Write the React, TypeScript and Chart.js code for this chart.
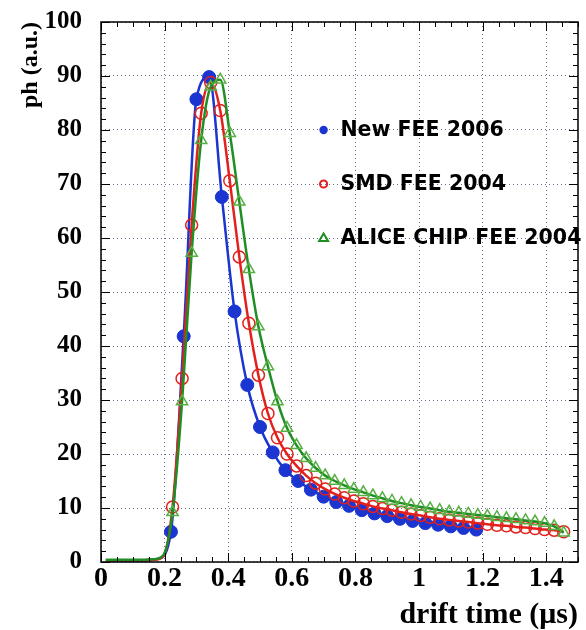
import React, { useEffect, useRef } from 'react';
import { Chart, registerables } from 'chart.js';

Chart.register(...registerables);

const SERIF = '"Liberation Serif", "Times New Roman", serif';
const SANS = '"DejaVu Sans", "Liberation Sans", sans-serif';

// ---------- data ----------
const xTickValues = [0, 0.2, 0.4, 0.6, 0.8, 1, 1.2, 1.4];
const yTickValues = [0, 10, 20, 30, 40, 50, 60, 70, 80, 90, 100];
const seriesLabels = ['New FEE 2006', 'SMD FEE 2004', 'ALICE CHIP FEE 2004'];

// drift time (µs) of the New FEE 2006 samples
const newFeeTimes = [
  0.02, 0.06, 0.10, 0.14, 0.18, 0.22, 0.26, 0.30, 0.34, 0.38,
  0.42, 0.46, 0.50, 0.54, 0.58, 0.62, 0.66, 0.70, 0.74, 0.78,
  0.82, 0.86, 0.90, 0.94, 0.98, 1.02, 1.06, 1.10, 1.14, 1.18,
];
const newFee2006 = [
  0.3, 0.3, 0.3, 0.3, 0.6, 5.6, 41.8, 85.7, 89.8, 67.6,
  46.4, 32.8, 25.0, 20.3, 17.0, 15.0, 13.4, 12.1, 11.1, 10.4,
  9.6, 9.0, 8.5, 8.0, 7.6, 7.2, 6.9, 6.6, 6.3, 6.0,
];

// drift time (µs) of the 2004 samples
const oldFeeTimes = [
  0.015, 0.045, 0.075, 0.105, 0.135, 0.165, 0.195, 0.225, 0.255, 0.285,
  0.315, 0.345, 0.375, 0.405, 0.435, 0.465, 0.495, 0.525, 0.555, 0.585,
  0.615, 0.645, 0.675, 0.705, 0.735, 0.765, 0.795, 0.825, 0.855, 0.885,
  0.915, 0.945, 0.975, 1.005, 1.035, 1.065, 1.095, 1.125, 1.155, 1.185,
  1.215, 1.245, 1.275, 1.305, 1.335, 1.365, 1.395, 1.425, 1.455,
];
const smdFee2004 = [
  0.3, 0.3, 0.3, 0.3, 0.3, 0.4, 1.0, 10.2, 34.0, 62.4,
  83.1, 88.8, 83.6, 70.6, 56.5, 44.2, 34.6, 27.5, 23.0, 20.0,
  17.8, 16.0, 14.6, 13.5, 12.6, 11.9, 11.3, 10.8, 10.3, 9.9,
  9.6, 9.2, 8.9, 8.6, 8.3, 8.0, 7.8, 7.6, 7.4, 7.2,
  7.0, 6.8, 6.7, 6.5, 6.4, 6.2, 6.0, 5.9, 5.6,
];
const aliceChipFee2004 = [
  0.4, 0.4, 0.4, 0.4, 0.4, 0.5, 1.2, 9.2, 29.7, 57.2,
  78.1, 88.0, 89.3, 79.4, 66.7, 54.2, 43.6, 36.2, 29.7, 24.8,
  21.6, 19.2, 17.4, 16.0, 15.0, 14.2, 13.5, 12.9, 12.3, 11.8,
  11.3, 10.9, 10.5, 10.2, 9.9, 9.6, 9.3, 9.1, 8.9, 8.7,
  8.5, 8.3, 8.1, 7.9, 7.7, 7.5, 7.2, 6.6, 5.4,
];

// ---------- styles ----------
const BLUE = '#1a35d0';
const RED = '#e3201c';
const GREEN = '#1f8f24';
const GREEN_MARK = '#58b043';

const hideFlat = (r: number) => (ctx: any) => (ctx.raw && ctx.raw.y < 2 ? 0 : r);

const framePlugin = {
  id: 'rootFrame',
  afterDatasetsDraw(chart: any) {
    const { ctx, chartArea } = chart;
    const { left, right, top, bottom } = chartArea;
    const xs = chart.scales.x;
    const ys = chart.scales.y;
    ctx.save();
    ctx.strokeStyle = '#000';
    ctx.lineWidth = 1.5;
    ctx.strokeRect(left, top, right - left, bottom - top);
    ctx.lineWidth = 1;
    ctx.beginPath();
    for (let i = 0; i <= 30; i++) {
      const px = Math.round(xs.getPixelForValue(i * 0.05)) + 0.5;
      const len = i % 4 === 0 ? 9 : 5;
      ctx.moveTo(px, bottom);
      ctx.lineTo(px, bottom - len);
      ctx.moveTo(px, top);
      ctx.lineTo(px, top + len);
    }
    for (let i = 0; i <= 50; i++) {
      const py = Math.round(ys.getPixelForValue(i * 2)) + 0.5;
      const len = i % 5 === 0 ? 9 : 5;
      ctx.moveTo(left, py);
      ctx.lineTo(left + len, py);
      ctx.moveTo(right, py);
      ctx.lineTo(right - len, py);
    }
    ctx.stroke();
    ctx.restore();
  },
};

const legendPlugin = {
  id: 'insideLegend',
  afterDraw(chart: any) {
    const { ctx } = chart;
    const xs = chart.scales.x;
    const ys = chart.scales.y;
    const mx = xs.getPixelForValue(0.7);
    const tx = xs.getPixelForValue(0.753);
    const rows = [80, 70, 60].map((v) => ys.getPixelForValue(v));
    ctx.save();
    ctx.fillStyle = BLUE;
    ctx.beginPath();
    ctx.arc(mx, rows[0], 4.2, 0, Math.PI * 2);
    ctx.fill();
    ctx.strokeStyle = RED;
    ctx.lineWidth = 2;
    ctx.beginPath();
    ctx.arc(mx, rows[1], 3.6, 0, Math.PI * 2);
    ctx.stroke();
    ctx.strokeStyle = GREEN;
    ctx.lineWidth = 2;
    ctx.beginPath();
    ctx.moveTo(mx, rows[2] - 4.5);
    ctx.lineTo(mx + 4.5, rows[2] + 3);
    ctx.lineTo(mx - 4.5, rows[2] + 3);
    ctx.closePath();
    ctx.stroke();
    ctx.fillStyle = '#000';
    ctx.font = `bold 20.5px ${SANS}`;
    ctx.textAlign = 'left';
    ctx.textBaseline = 'middle';
    seriesLabels.forEach((label, i) => ctx.fillText(label, tx, rows[i] + 1));
    ctx.restore();
  },
};

export default function App() {
  const canvasRef = useRef<HTMLCanvasElement | null>(null);

  useEffect(() => {
    const canvas = canvasRef.current;
    if (!canvas) return;
    const chart = new Chart(canvas, {
      type: 'line',
      data: {
        datasets: [
          {
            label: seriesLabels[0],
            data: newFeeTimes.map((t, i) => ({ x: t, y: newFee2006[i] })),
            borderColor: BLUE,
            backgroundColor: BLUE,
            borderWidth: 2.5,
            pointStyle: 'circle',
            pointRadius: hideFlat(6.5),
            pointBackgroundColor: BLUE,
            pointBorderColor: BLUE,
            pointBorderWidth: 1,
            cubicInterpolationMode: 'monotone',
            tension: 0.4,
            order: 3,
          },
          {
            label: seriesLabels[1],
            data: oldFeeTimes.map((t, i) => ({ x: t, y: smdFee2004[i] })),
            borderColor: RED,
            backgroundColor: 'rgba(0,0,0,0)',
            borderWidth: 2.5,
            pointStyle: 'circle',
            pointRadius: hideFlat(6),
            pointBackgroundColor: 'rgba(0,0,0,0)',
            pointBorderColor: RED,
            pointBorderWidth: 1.5,
            cubicInterpolationMode: 'monotone',
            tension: 0.4,
            order: 2,
          },
          {
            label: seriesLabels[2],
            data: oldFeeTimes.map((t, i) => ({ x: t, y: aliceChipFee2004[i] })),
            borderColor: GREEN,
            backgroundColor: 'rgba(0,0,0,0)',
            borderWidth: 2.5,
            pointStyle: 'triangle',
            pointRadius: hideFlat(6.5),
            pointBackgroundColor: 'rgba(0,0,0,0)',
            pointBorderColor: GREEN_MARK,
            pointBorderWidth: 1.5,
            cubicInterpolationMode: 'monotone',
            tension: 0.4,
            order: 1,
          },
        ],
      },
      options: {
        animation: false,
        responsive: false,
        devicePixelRatio: 1,
        layout: { padding: { top: 22, right: 5, left: 0, bottom: 0 } },
        plugins: {
          legend: { display: false },
          tooltip: { enabled: false },
        },
        scales: {
          x: {
            type: 'linear',
            min: 0,
            max: 1.5,
            afterBuildTicks: (s: any) => {
              s.ticks = xTickValues.map((v) => ({ value: v }));
            },
            afterFit: (s: any) => {
              s.height = 68;
              s.paddingLeft = 0;
              s.paddingRight = 0;
            },
            grid: { color: 'rgba(80,80,120,0.85)', lineWidth: 1, drawTicks: false },
            border: { display: false, dash: [1, 3] },
            ticks: {
              autoSkip: false,
              maxRotation: 0,
              padding: 0,
              color: '#000',
              font: { family: SERIF, weight: 'bold', size: 28 },
              callback: (v: any) => String(v),
            },
            title: {
              display: true,
              text: 'drift time (μs)',
              align: 'end',
              color: '#000',
              font: { family: SERIF, weight: 'bold', size: 30, lineHeight: 1 },
              padding: { top: 0, bottom: 0 },
            },
          },
          y: {
            type: 'linear',
            min: 0,
            max: 100,
            afterBuildTicks: (s: any) => {
              s.ticks = yTickValues.map((v) => ({ value: v }));
            },
            afterFit: (s: any) => {
              s.width = 101;
              s.paddingTop = 0;
              s.paddingBottom = 0;
            },
            grid: { color: 'rgba(80,80,120,0.85)', lineWidth: 1, drawTicks: false },
            border: { display: false, dash: [1, 3] },
            ticks: {
              autoSkip: false,
              padding: 19,
              color: '#000',
              font: { family: SERIF, weight: 'bold', size: 25 },
              callback: (v: any) => String(v),
            },
            title: {
              display: true,
              text: 'ph (a.u.)',
              align: 'end',
              color: '#000',
              font: { family: SERIF, weight: 'bold', size: 24, lineHeight: 1 },
              padding: { top: 19, bottom: 0 },
            },
          },
        },
      },
      plugins: [framePlugin, legendPlugin],
    } as any);
    return () => chart.destroy();
  }, []);

  return (
    <div style={{ position: 'fixed', left: 0, top: 0, width: 586, height: 630, background: '#fff' }}>
      <canvas ref={canvasRef} width={586} height={630} style={{ display: 'block', width: 586, height: 630 }} />
    </div>
  );
}
